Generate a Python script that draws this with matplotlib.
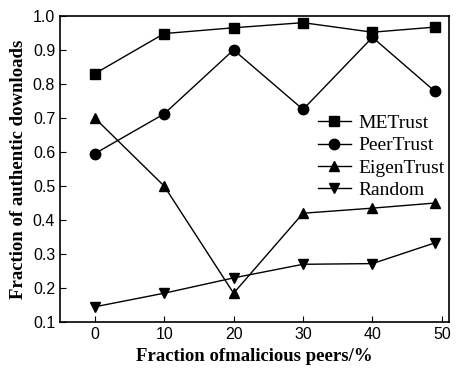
import numpy as np
import matplotlib.pyplot as plt

fractions = [0, 10, 20, 30, 40, 49]
metrust = [0.83, 0.948, 0.965, 0.98, 0.952, 0.967]
peertrust = [0.595, 0.712, 0.90, 0.725, 0.937, 0.778]
eigentrust = [0.70, 0.50, 0.185, 0.42, 0.435, 0.45]
random_sel = [0.145, 0.185, 0.23, 0.27, 0.272, 0.333]

plt.rcParams['font.size'] = 11

fig = plt.figure(figsize=(4.58, 3.69), dpi=100)
ax = fig.add_axes([0.131, 0.127, 0.849, 0.83])

ax.plot(fractions, metrust, 'k-s', ms=6.5, lw=1, label='METrust')
ax.plot(fractions, peertrust, 'k-o', ms=7.5, lw=1, label='PeerTrust')
ax.plot(fractions, eigentrust, 'k-^', ms=7.5, lw=1, label='EigenTrust')
ax.plot(fractions, random_sel, 'k-v', ms=7.5, lw=1, label='Random')

ax.set_xlim(-5, 51)
ax.set_ylim(0.1, 1.0)
ax.set_xticks([0, 10, 20, 30, 40, 50])
ax.set_yticks(np.arange(0.1, 1.01, 0.1))
ax.set_yticklabels(['%.1f' % v for v in np.arange(0.1, 1.01, 0.1)])
ax.tick_params(direction='in', length=4, labelsize=11.5)
for lab in ax.get_xticklabels() + ax.get_yticklabels():
    lab.set_family('Liberation Sans')
for s in ax.spines.values():
    s.set_linewidth(1.2)

ax.set_xlabel('Fraction ofmalicious peers/%', family='Liberation Serif',
              fontweight='bold', fontsize=13.5)
ax.set_ylabel('Fraction of authentic downloads', family='Liberation Serif',
              fontweight='bold', fontsize=13.5)

ax.legend(loc='center right', bbox_to_anchor=(1.035, 0.54), frameon=False,
          prop={'family': 'Liberation Serif', 'size': 14},
          handlelength=1.7, labelspacing=0.25, handletextpad=0.4)

fig.savefig('out.png')
